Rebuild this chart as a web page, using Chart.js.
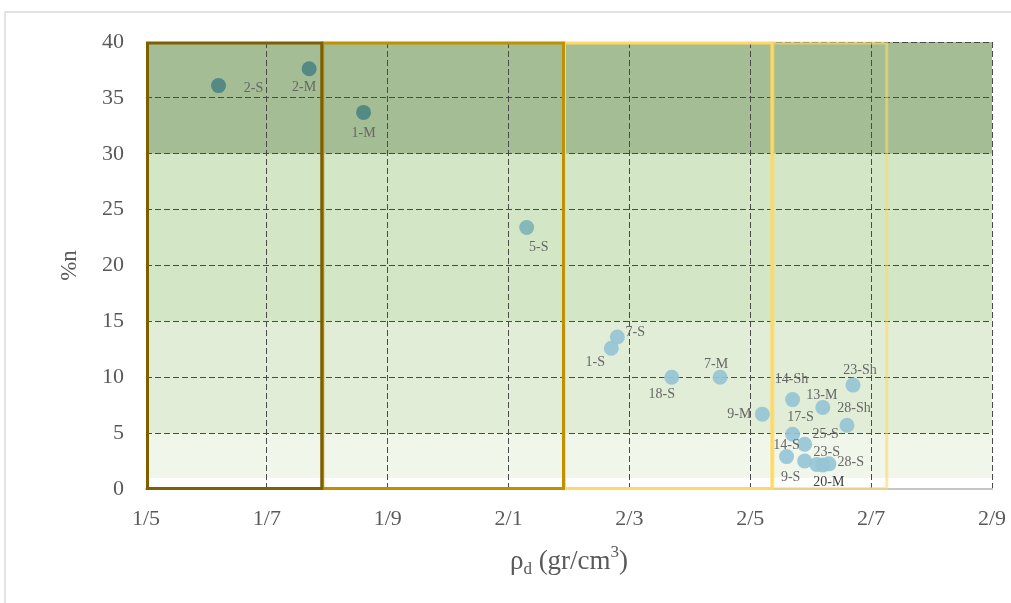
<!DOCTYPE html>
<html>
<head>
<meta charset="utf-8">
<script src="https://cdn.jsdelivr.net/npm/chart.js@4.4.0/dist/chart.umd.min.js"></script>
<style>
  html, body { margin: 0; padding: 0; background: #fff; }
  #wrap { position: relative; width: 1011px; height: 603px; overflow: hidden; }
  #frame { position: absolute; left: 4px; top: 11px; width: 1100px; height: 700px;
           border: 2px solid #e3e3e3; box-sizing: border-box; }
  #chart { position: absolute; left: 0; top: 0; }
</style>
</head>
<body>
<div id="wrap">
  <div id="frame"></div>
  <canvas id="chart" width="1011" height="603"></canvas>
</div>
<script>
"use strict";

// samples with high porosity
const darkNames = ["2-S", "2-M", "1-M"];
const darkX = [1.62, 1.77, 1.86];
const darkY = [36.1, 37.6, 33.7];

const midNames = ["5-S"];
const midX = [2.13];
const midY = [23.4];

const lightNames = ["7-S", "1-S", "18-S", "7-M", "9-M", "14-Sh", "13-M", "23-Sh",
  "28-Sh", "17-S", "25-S", "14-S", "9-S", "23-S", "20-M", "28-S"];
const lightX = [2.28, 2.27, 2.37, 2.45, 2.52, 2.57, 2.62, 2.67,
  2.66, 2.57, 2.59, 2.56, 2.59, 2.61, 2.62, 2.63];
const lightY = [13.6, 12.6, 10.0, 10.0, 6.7, 8.0, 7.3, 9.3,
  5.7, 4.9, 4.0, 2.9, 2.5, 2.2, 2.15, 2.25];

const xTicks = [1.5, 1.7, 1.9, 2.1, 2.3, 2.5, 2.7, 2.9];
const xTickLabels = ["1/5", "1/7", "1/9", "2/1", "2/3", "2/5", "2/7", "2/9"];
const yTicks = [0, 5, 10, 15, 20, 25, 30, 35, 40];

// porosity bands and density zones
const bandEdges = [1, 5, 15, 30, 40];
const bandColors = ["#f0f6ea", "#e1edd6", "#d3e6c6", "#a5bd95"];
const zoneEdges = [1.5, 1.79, 2.19, 2.535, 2.725];
const zoneColors = ["#7f6000", "#bf9000", "#ffd966", "rgba(255,217,102,0.6)"];

// label offsets in px, same order as the names
const darkOffsets = [[35, 3], [-5, 19], [0, 21]];
const midOffsets = [[12, 20]];
const lightOffsets = [[18, -5], [-16, 14], [-10, 17], [-4, -13], [-23, 0], [-1, -20],
  [-1, -12], [7, -15], [7, -17], [8, -17], [21, -10], [0, -11], [-14, 16], [10, -12],
  [6, 17], [22, -2]];

const SERIF = '"Liberation Serif", "Times New Roman", serif';
const GREY = "#595959";

function toPoints(xs, ys) {
  return xs.map((v, i) => ({ x: v, y: ys[i] }));
}

const backdrop = {
  id: "backdrop",
  beforeDraw(chart) {
    const { ctx, chartArea: a, scales: { y } } = chart;
    ctx.save();
    for (let i = 0; i < bandColors.length; i++) {
      const top = y.getPixelForValue(bandEdges[i + 1]);
      const bot = y.getPixelForValue(bandEdges[i]);
      ctx.fillStyle = bandColors[i];
      ctx.fillRect(a.left, top, a.right - a.left, bot - top);
    }
    ctx.restore();
  },
  beforeDatasetsDraw(chart) {
    const { ctx, scales: { x, y } } = chart;
    const t = y.getPixelForValue(40);
    const b = y.getPixelForValue(0);
    ctx.save();
    ctx.lineWidth = 3;
    for (let i = zoneColors.length - 1; i >= 0; i--) {
      const l = x.getPixelForValue(zoneEdges[i]);
      const r = x.getPixelForValue(zoneEdges[i + 1]);
      ctx.strokeStyle = zoneColors[i];
      ctx.strokeRect(l + 1.5, t + 1, r - l - 1, b - t - 1.5);
    }
    ctx.restore();
  },
  afterDatasetsDraw(chart) {
    const { ctx } = chart;
    const groups = [
      [darkNames, darkOffsets],
      [midNames, midOffsets],
      [lightNames, lightOffsets],
    ];
    ctx.save();
    ctx.font = "14px " + SERIF;
    ctx.textAlign = "center";
    ctx.textBaseline = "middle";
    groups.forEach(([names, offs], di) => {
      const meta = chart.getDatasetMeta(di);
      meta.data.forEach((pt, i) => {
        ctx.fillStyle = names[i] === "20-M" ? "#404040" : "#666666";
        ctx.fillText(names[i], pt.x + offs[i][0], pt.y + offs[i][1]);
      });
    });
    ctx.restore();
  },
  afterDraw(chart) {
    const { ctx, chartArea: a } = chart;
    ctx.save();
    ctx.fillStyle = GREY;
    // y title
    ctx.font = "23px " + SERIF;
    ctx.translate(70, (a.top + a.bottom) / 2);
    ctx.rotate(-Math.PI / 2);
    ctx.textAlign = "center";
    ctx.textBaseline = "middle";
    ctx.fillText("%n", 0, 0);
    ctx.restore();

    // x title: rho_d (gr/cm^3)
    ctx.save();
    ctx.fillStyle = GREY;
    ctx.textBaseline = "alphabetic";
    ctx.textAlign = "left";
    const big = "27px " + SERIF;
    const small = "17px " + SERIF;
    const parts = [
      ["\u03c1", big, 0],
      ["d", small, 5],
      [" (gr/cm", big, 0],
      ["3", small, -12],
      [")", big, 0],
    ];
    let w = 0;
    parts.forEach(([s, f]) => { ctx.font = f; w += ctx.measureText(s).width; });
    let cx = (a.left + a.right) / 2 - w / 2;
    const base = 569;
    parts.forEach(([s, f, dy]) => {
      ctx.font = f;
      ctx.fillText(s, cx, base + dy);
      cx += ctx.measureText(s).width;
    });
    ctx.restore();
  },
};

const chart = new Chart(document.getElementById("chart"), {
  type: "scatter",
  data: {
    datasets: [
      { data: toPoints(darkX, darkY), backgroundColor: "#548a84" },
      { data: toPoints(midX, midY), backgroundColor: "#86b8ba" },
      { data: toPoints(lightX, lightY), backgroundColor: "rgba(150,196,214,0.92)" },
    ],
  },
  options: {
    responsive: false,
    animation: false,
    events: [],
    elements: { point: { radius: 7.5, borderWidth: 0, hoverRadius: 7.5 } },
    layout: { padding: { top: 42, right: 19, left: 0, bottom: 0 } },
    plugins: { legend: { display: false }, tooltip: { enabled: false } },
    scales: {
      x: {
        type: "linear",
        min: 1.5,
        max: 2.9,
        afterBuildTicks: (s) => { s.ticks = xTicks.map((v) => ({ value: v })); },
        afterFit: (s) => { s.height = 114; s.paddingLeft = 0; s.paddingRight = 0; },
        ticks: {
          padding: 17,
          color: GREY,
          font: { family: SERIF, size: 22 },
          maxRotation: 0,
          callback: (v, i) => xTickLabels[i],
        },
        grid: { color: "#4a4a4a", lineWidth: 1, drawTicks: false },
        border: { display: true, color: "#c6c6c6", width: 2, dash: [6, 3] },
      },
      y: {
        type: "linear",
        min: 0,
        max: 40,
        afterBuildTicks: (s) => { s.ticks = yTicks.map((v) => ({ value: v })); },
        afterFit: (s) => { s.width = 146; s.paddingTop = 0; s.paddingBottom = 0; },
        ticks: {
          padding: 22,
          color: GREY,
          font: { family: SERIF, size: 22 },
        },
        grid: { color: "#4a4a4a", lineWidth: 1, drawTicks: false },
        border: { display: false, dash: [6, 3] },
      },
    },
  },
  plugins: [backdrop],
});
</script>
</body>
</html>
